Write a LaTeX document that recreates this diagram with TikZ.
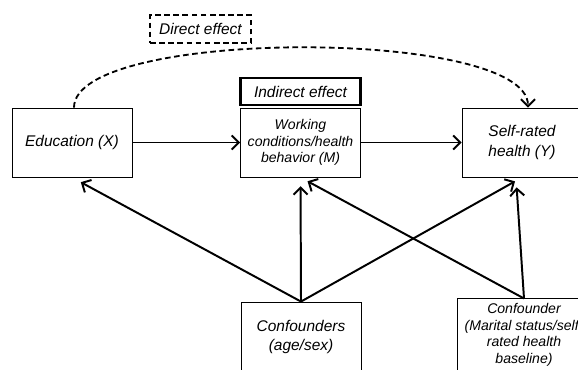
\documentclass[tikz,border=0pt]{standalone}
\usepackage{fontspec}
\setmainfont{Liberation Sans}
\usetikzlibrary{arrows.meta}

\begin{document}
\begin{tikzpicture}[x=0.025cm, y=-0.025cm,
	box/.style={draw, line width=0.6pt, rectangle, minimum width=3cm, minimum height=1.725cm,
		align=center, font=\fontsize{11}{14}\selectfont\itshape},
	smallbox/.style={box, font=\fontsize{10}{11.8}\selectfont\itshape},
	arr/.style={line width=1.4pt, -{Straight Barb[length=5pt,width=10pt,line width=1.4pt]}},
	longdash/.style={dash pattern=on 4pt off 2.5pt}]
	\useasboundingbox (0, 0) rectangle (578, 369);
	% top row
	\node (edu) at (72, 142.5)		[box]		{Education (X)};
	\node (work) at (300.5, 142.5)	[smallbox]	{Working\\conditions/health\\behavior (M)};
	\node (self) at (522, 142.5)	[box]		{Self-rated\\health (Y)};
	% labels of the two paths
	\node (ind) at (300.5, 91.5)	[box, line width=1.5pt, minimum height=0.675cm] {Indirect effect};
	\node (dir) at (200.5, 29)		[box, longdash, line width=1.2pt, minimum width=2.525cm, minimum height=0.7cm] {Direct effect};
	% confounders, cut by the lower edge
	\node (conf) at (301, 337)		[box, minimum height=1.75cm] {Confounders\\(age/sex)};
	\node (base) at (524, 335)		[smallbox, minimum width=3.35cm, minimum height=1.7cm]
		{Confounder\\(Marital status/self-\\rated health\\baseline)};
	% `shorten` keeps the tips off the boxes
	\draw[arr] (edu.east)	--	(work.west);
	\draw[arr] (work.east)	--	(self.west);
	\draw[arr, longdash, line width=1.3pt] ([xshift=0.05cm]edu.north) .. controls +(0, -80) and +(0, -80) .. ([xshift=0.15cm]self.north);
	\draw[arr, shorten >=0.25cm] (conf.north) -- (edu.south);
	\draw[arr, shorten >=0.22cm] (conf.north) -- (work.south);
	\draw[arr, shorten >=0.2cm] (conf.north) -- (self.south);
	\draw[arr, shorten >=0.2cm] (base.north) -- (work.south);
	\draw[arr, shorten >=0.25cm] (base.north) -- ([xshift=-0.15cm]self.south);
\end{tikzpicture}
\end{document}
